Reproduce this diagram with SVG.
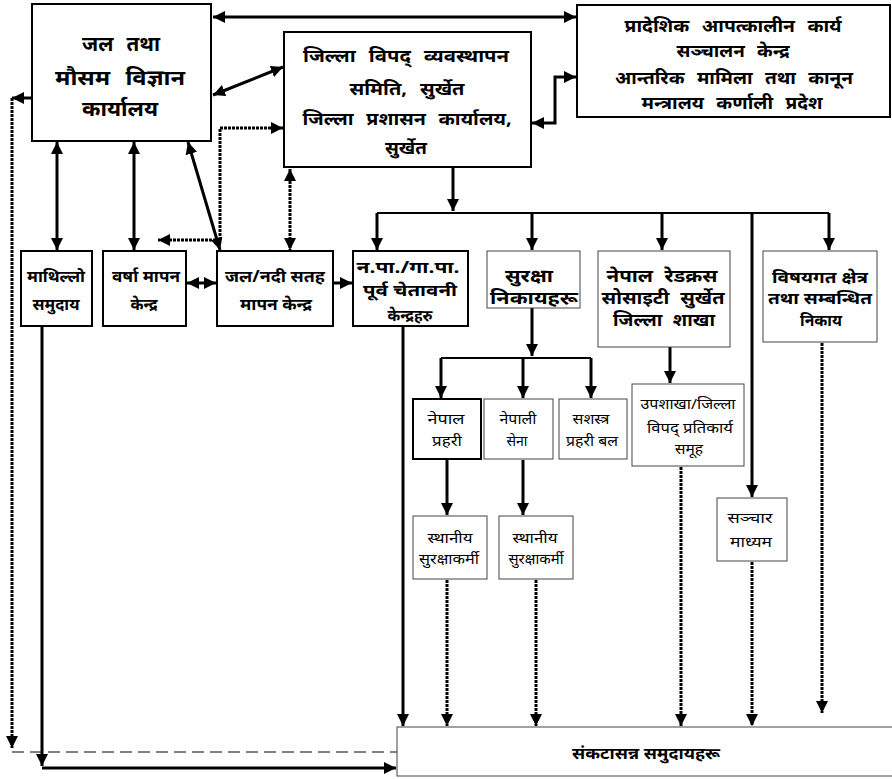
<svg xmlns="http://www.w3.org/2000/svg" width="892" height="779" viewBox="0 0 892 779">
<style>
text{font-family:"Noto Sans","Noto Sans Devanagari","Lohit Devanagari",sans-serif;text-anchor:middle;dominant-baseline:central;fill:#000}
.b1{font-size:21px;font-weight:bold;word-spacing:8px}
.b2{font-size:18px;font-weight:bold;word-spacing:7px}
.b3{font-size:16px;font-weight:bold}
.b4{font-size:17px;font-weight:bold;word-spacing:5px}
.s{font-size:14px;font-weight:normal}
.bx{fill:#fff;stroke:#000;stroke-width:2}
.tn{fill:#fff;stroke:#444;stroke-width:1}
.c{fill:none;stroke:#000;stroke-width:3}
.l{fill:none;stroke:#000;stroke-width:2}
.d{fill:none;stroke:#000;stroke-width:3;stroke-dasharray:3 1}
.ds{fill:none;stroke:#000;stroke-width:1;stroke-dasharray:12 6}
</style>
<defs>
<marker id="a" viewBox="0 0 10 10" refX="10" refY="5" markerWidth="12" markerHeight="12" markerUnits="userSpaceOnUse" orient="auto-start-reverse"><path d="M0,0 L10,5 L0,10 z" fill="#000"/></marker>
</defs>
<g id="connectors">
<line class="c" x1="213" y1="17" x2="576" y2="17" marker-start="url(#a)" marker-end="url(#a)"/>
<line class="c" x1="213" y1="95" x2="283" y2="67" marker-start="url(#a)" marker-end="url(#a)"/>
<path class="d" d="M220,240 V128 H283" marker-end="url(#a)"/>
<path class="d" d="M220,240 H158" marker-end="url(#a)"/>
<line class="d" x1="290" y1="169" x2="290" y2="250" marker-start="url(#a)" marker-end="url(#a)"/>
<path class="c" d="M532,123 H555 V77 H576" marker-start="url(#a)" marker-end="url(#a)"/>
<line class="c" x1="57" y1="142" x2="57" y2="250" marker-start="url(#a)" marker-end="url(#a)"/>
<line class="c" x1="134" y1="142" x2="134" y2="250" marker-start="url(#a)" marker-end="url(#a)"/>
<line class="c" x1="188" y1="142" x2="220" y2="250" marker-start="url(#a)" marker-end="url(#a)"/>
<line class="c" x1="187" y1="283" x2="216" y2="283" marker-start="url(#a)" marker-end="url(#a)"/>
<line class="c" x1="334" y1="283" x2="352" y2="283" marker-end="url(#a)"/>
<line class="c" x1="453" y1="168" x2="453" y2="211" marker-end="url(#a)"/>
<path class="l" d="M377,213 H829"/>
<path class="c" d="M377,213 V250" marker-end="url(#a)"/>
<path class="c" d="M532,213 V250" marker-end="url(#a)"/>
<path class="c" d="M662,213 V250" marker-end="url(#a)"/>
<path class="c" d="M829,213 V250" marker-end="url(#a)"/>
<path class="c" d="M752,213 V497" marker-end="url(#a)"/>
<path class="c" d="M532,308 V356" marker-end="url(#a)"/>
<path class="l" d="M441,358 H591"/>
<path class="c" d="M441,358 V398" marker-end="url(#a)"/>
<path class="c" d="M523,358 V398" marker-end="url(#a)"/>
<path class="c" d="M591,358 V398" marker-end="url(#a)"/>
<path class="c" d="M670,347 V383" marker-end="url(#a)"/>
<path class="c" d="M447,460 V515" marker-end="url(#a)"/>
<path class="c" d="M523,460 V515" marker-end="url(#a)"/>
<path class="d" d="M447,580 V726" marker-end="url(#a)"/>
<path class="d" d="M536,580 V726" marker-end="url(#a)"/>
<path class="d" d="M681,467 V726" marker-end="url(#a)"/>
<path class="d" d="M752,562 V726" marker-end="url(#a)"/>
<path class="d" d="M822,343 V713" marker-end="url(#a)"/>
<path class="c" d="M403,327 V726" marker-end="url(#a)"/>
<path class="c" d="M42,327 V766" marker-end="url(#a)"/>
<path class="c" d="M42,768 H396" marker-end="url(#a)"/>
<path class="c" d="M31,98 H12" marker-end="url(#a)"/>
<path class="d" d="M12,98 V748" marker-end="url(#a)"/>
<path class="ds" d="M12,752 H397"/>
</g>
<g id="n1"><rect class="bx" x="32" y="4" width="179" height="137"/>
<text class="b1" x="121" y="43" textLength="78" lengthAdjust="spacingAndGlyphs">जल तथा</text><text class="b1" x="120" y="77" textLength="130" lengthAdjust="spacingAndGlyphs">मौसम विज्ञान</text><text class="b1" x="120" y="108" textLength="76" lengthAdjust="spacingAndGlyphs">कार्यालय</text></g>
<g id="n2"><rect class="bx" x="284" y="32" width="247" height="135"/>
<text class="b2" x="406" y="55" textLength="206" lengthAdjust="spacingAndGlyphs">जिल्ला विपद् व्यवस्थापन</text><text class="b2" x="407" y="88" textLength="115" lengthAdjust="spacingAndGlyphs">समिति, सुर्खेत</text><text class="b2" x="407" y="118" textLength="209" lengthAdjust="spacingAndGlyphs">जिल्ला प्रशासन कार्यालय,</text><text class="b2" x="406" y="147" textLength="42" lengthAdjust="spacingAndGlyphs">सुर्खेत</text></g>
<g id="n3"><rect class="bx" x="577" y="5" width="313" height="112"/>
<text class="b2" x="733" y="25" textLength="217" lengthAdjust="spacingAndGlyphs">प्रादेशिक आपत्कालीन कार्य</text><text class="b2" x="733" y="50" textLength="113" lengthAdjust="spacingAndGlyphs">सञ्चालन केन्द्र</text><text class="b2" x="734" y="77" textLength="238" lengthAdjust="spacingAndGlyphs">आन्तरिक मामिला तथा कानून</text><text class="b2" x="732" y="102" textLength="181" lengthAdjust="spacingAndGlyphs">मन्त्रालय कर्णाली प्रदेश</text></g>
<g id="n4"><rect class="bx" x="21" y="251" width="71" height="75"/>
<text class="b3" x="56" y="276" textLength="58" lengthAdjust="spacingAndGlyphs">माथिल्लो</text><text class="b3" x="56" y="304" textLength="47" lengthAdjust="spacingAndGlyphs">समुदाय</text></g>
<g id="n5"><rect class="bx" x="103" y="251" width="83" height="75"/>
<text class="b3" x="146" y="276" textLength="68" lengthAdjust="spacingAndGlyphs">वर्षा मापन</text><text class="b3" x="144" y="304" textLength="27" lengthAdjust="spacingAndGlyphs">केन्द्र</text></g>
<g id="n6"><rect class="bx" x="217" y="251" width="116" height="75"/>
<text class="b3" x="275" y="276" textLength="100" lengthAdjust="spacingAndGlyphs">जल/नदी सतह</text><text class="b3" x="276" y="304" textLength="72" lengthAdjust="spacingAndGlyphs">मापन केन्द्र</text></g>
<g id="n7"><rect class="bx" x="353" y="251" width="115" height="75"/>
<text class="b3" x="408" y="267" textLength="103" lengthAdjust="spacingAndGlyphs">न.पा./गा.पा.</text><text class="b3" x="410" y="290" textLength="94" lengthAdjust="spacingAndGlyphs">पूर्व चेतावनी</text><text class="b3" x="410" y="315" textLength="45" lengthAdjust="spacingAndGlyphs">केन्द्रहरु</text></g>
<g id="n8"><rect class="tn" x="487" y="251" width="93" height="57"/>
<text class="b4" x="529" y="275" textLength="48" lengthAdjust="spacingAndGlyphs">सुरक्षा</text><text class="b4" x="534" y="297" textLength="88" lengthAdjust="spacingAndGlyphs">निकायहरू</text></g>
<g id="n9"><rect class="tn" x="598" y="251" width="132" height="96"/>
<text class="b4" x="662" y="275" textLength="111" lengthAdjust="spacingAndGlyphs">नेपाल रेडक्रस</text><text class="b4" x="663" y="297" textLength="123" lengthAdjust="spacingAndGlyphs">सोसाइटी सुर्खेत</text><text class="b4" x="664" y="319" textLength="102" lengthAdjust="spacingAndGlyphs">जिल्ला शाखा</text></g>
<g id="n10"><rect class="tn" x="763" y="251" width="114" height="91"/>
<text class="b3" x="820" y="277" textLength="96" lengthAdjust="spacingAndGlyphs">विषयगत क्षेत्र</text><text class="b3" x="820" y="298" textLength="104" lengthAdjust="spacingAndGlyphs">तथा सम्बन्धित</text><text class="b3" x="821" y="320" textLength="42" lengthAdjust="spacingAndGlyphs">निकाय</text></g>
<g id="n11"><rect class="bx" x="413" y="399" width="68" height="60"/>
<text class="s" x="446" y="418" textLength="37" lengthAdjust="spacingAndGlyphs">नेपाल</text><text class="s" x="447" y="440" textLength="30" lengthAdjust="spacingAndGlyphs">प्रहरी</text></g>
<g id="n12"><rect class="tn" x="484" y="399" width="69" height="60"/>
<text class="s" x="518" y="418" textLength="37" lengthAdjust="spacingAndGlyphs">नेपाली</text><text class="s" x="517" y="440" textLength="21" lengthAdjust="spacingAndGlyphs">सेना</text></g>
<g id="n13"><rect class="tn" x="559" y="399" width="68" height="60"/>
<text class="s" x="591" y="418" textLength="37" lengthAdjust="spacingAndGlyphs">सशस्त्र</text><text class="s" x="592" y="440" textLength="52" lengthAdjust="spacingAndGlyphs">प्रहरी बल</text></g>
<g id="n14"><rect class="tn" x="632" y="384" width="112" height="82"/>
<text class="s" x="688" y="403" textLength="95" lengthAdjust="spacingAndGlyphs">उपशाखा/जिल्ला</text><text class="s" x="690" y="427" textLength="86" lengthAdjust="spacingAndGlyphs">विपद् प्रतिकार्य</text><text class="s" x="689" y="448" textLength="28" lengthAdjust="spacingAndGlyphs">समूह</text></g>
<g id="n15"><rect class="tn" x="413" y="516" width="74" height="63"/>
<text class="s" x="450" y="537" textLength="45" lengthAdjust="spacingAndGlyphs">स्थानीय</text><text class="s" x="449" y="558" textLength="60" lengthAdjust="spacingAndGlyphs">सुरक्षाकर्मी</text></g>
<g id="n16"><rect class="tn" x="499" y="516" width="74" height="63"/>
<text class="s" x="535" y="537" textLength="45" lengthAdjust="spacingAndGlyphs">स्थानीय</text><text class="s" x="536" y="558" textLength="55" lengthAdjust="spacingAndGlyphs">सुरक्षाकर्मी</text></g>
<g id="n17"><rect class="tn" x="717" y="498" width="70" height="63"/>
<text class="s" x="750" y="517" textLength="45" lengthAdjust="spacingAndGlyphs">सञ्चार</text><text class="s" x="751" y="541" textLength="42" lengthAdjust="spacingAndGlyphs">माध्यम</text></g>
<g id="n18"><rect class="tn" x="397" y="727" width="500" height="49"/>
<text class="b3" x="646" y="753" textLength="148" lengthAdjust="spacingAndGlyphs">संकटासन्न समुदायहरू</text></g>
</svg>
